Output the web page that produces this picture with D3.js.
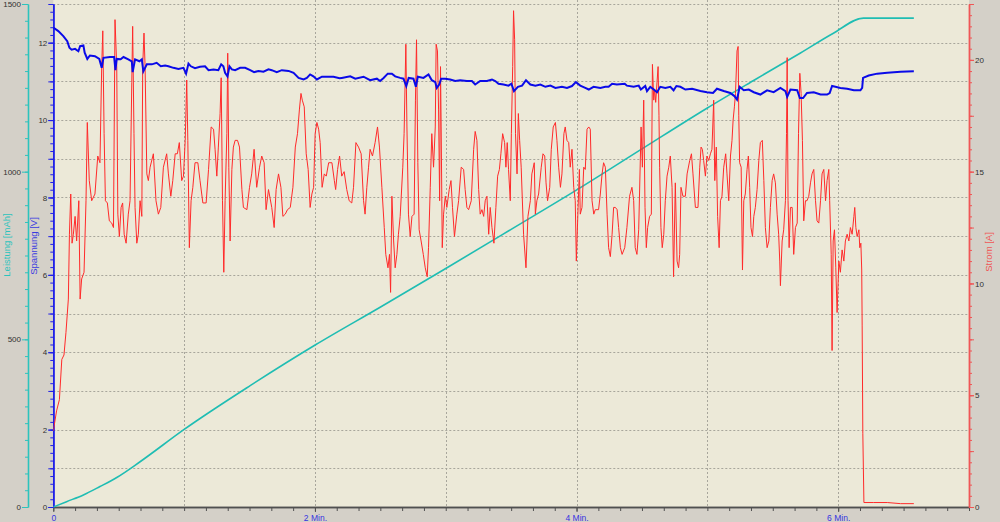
<!DOCTYPE html>
<html><head><meta charset="utf-8">
<script src="https://cdn.jsdelivr.net/npm/d3@7"></script>
<style>html,body{margin:0;padding:0;background:#D4D0C8;overflow:hidden}svg{display:block}</style>
</head><body><svg id="c" width="1000" height="522"></svg>
<script>
// time in seconds, Strom in A
const stromReadings = [[0,3.4],[1.5,4.3],[2.8,4.8],[3.9,6.6],[4.9,6.8],[5.8,7.8],[6.9,9.3],[7.4,12.2],[8.0,14.0],[8.6,11.8],[9.2,12.2],[10.0,13.0],[10.7,11.9],[11.7,13.7],[12.3,9.3],[13.0,10.2],[14.1,10.5],[15.0,13.7],[15.6,17.2],[16.5,14.6],[17.6,13.7],[19.1,14.0],[20.4,15.7],[21.4,15.4],[22.2,19.7],[22.7,21.3],[23.3,16.7],[23.9,13.7],[24.8,13.6],[25.7,12.8],[26.8,12.7],[27.6,12.5],[28.3,21.8],[29.1,19.7],[29.6,13.1],[30.3,12.1],[31.1,13.4],[31.8,13.6],[32.5,12.2],[33.4,11.8],[34.4,13.1],[35.2,13.7],[36.0,19.0],[36.4,21.5],[37.0,16.7],[37.5,13.4],[38.3,11.8],[39.0,12.2],[39.8,13.7],[40.6,13.0],[41.0,19.7],[41.6,21.2],[42.1,19.7],[42.9,14.9],[43.6,14.6],[44.4,15.2],[45.9,15.8],[47.1,13.7],[48.2,13.1],[49.3,13.4],[50.5,15.2],[52.0,15.8],[52.8,14.9],[53.9,13.9],[54.8,14.6],[55.9,15.8],[56.9,15.8],[57.8,16.3],[58.9,14.6],[59.7,14.8],[60.5,16.4],[60.9,17.9],[61.2,19.1],[61.7,16.4],[62.4,11.6],[63.2,13.7],[64.0,14.3],[65.0,15.4],[66.3,15.4],[67.3,14.6],[68.6,13.6],[70.1,13.6],[71.2,15.1],[72.4,17.0],[73.5,16.9],[74.2,16.0],[75.0,14.8],[75.7,16.1],[76.5,17.6],[77.0,19.2],[77.6,13.7],[78.2,10.5],[78.8,13.7],[79.6,16.7],[80.0,20.3],[80.5,15.2],[81.1,11.9],[81.9,15.1],[82.6,16.1],[83.4,16.4],[84.5,16.4],[85.4,16.1],[86.5,14.2],[87.2,13.4],[88.8,13.3],[90.0,14.3],[91.0,14.9],[92.1,16.0],[93.3,14.3],[94.6,15.2],[95.6,15.7],[96.7,15.4],[97.6,13.3],[98.7,14.2],[100.2,13.4],[101.3,12.5],[102.2,14.2],[103.3,14.9],[104.4,14.3],[105.3,13.0],[106.4,13.1],[107.4,13.3],[108.7,13.4],[109.9,14.3],[111.0,16.1],[112.0,16.7],[112.9,17.8],[113.6,18.5],[114.2,18.2],[115.1,17.9],[116.0,15.8],[116.9,15.1],[117.8,13.4],[118.6,14.0],[119.4,14.3],[120.1,16.7],[120.9,17.2],[121.7,16.9],[122.4,16.3],[123.3,14.3],[124.3,14.9],[125.2,14.8],[126.3,15.4],[127.8,15.4],[128.9,14.6],[129.5,14.2],[130.4,15.1],[131.3,15.7],
[132.3,14.8],[133.4,15.0],[134.6,14.2],[135.7,13.7],[136.9,13.6],[137.7,14.3],[138.8,16.3],[140.0,16.1],[141.2,15.8],[142.3,13.7],[143.0,13.1],[143.8,14.3],[144.6,15.2],[145.3,16.0],[146.4,15.7],[147.6,16.3],[148.7,17.0],[149.6,16.1],[150.7,14.3],[151.8,12.5],[152.5,11.3],[153.5,10.7],[154.2,11.3],[154.7,9.6],[155.3,13.9],[156.1,11.9],[156.8,10.7],[157.6,11.3],[158.3,12.2],[159.1,13.0],[160.3,15.2],[160.9,16.7],[161.7,20.7],[162.2,17.0],[162.9,13.1],[163.7,12.1],[164.5,13.0],[165.5,13.1],[166.1,18.2],[166.6,20.9],[167.2,15.4],[167.8,12.4],[168.7,11.9],[169.7,11.3],[170.6,10.7],[171.5,10.3],[172.1,11.6],[172.9,14.3],[173.6,16.7],[174.4,15.2],[175.2,17.0],[175.6,20.7],[176.2,20.4],[176.7,17.8],[177.2,13.7],[177.6,19.7],[177.9,17.0],[178.4,11.6],[179.0,13.1],[179.8,13.9],[180.5,13.4],[181.6,14.2],[182.4,14.6],[183.1,13.4],[184.0,12.1],[185.1,13.1],[185.9,13.7],[187.1,15.2],[188.2,15.1],[188.9,14.2],[189.7,13.4],[190.5,13.3],[191.7,13.7],[192.8,16.0],[193.5,16.8],[194.3,16.4],[195.1,14.2],[195.8,13.1],[196.6,13.3],[197.4,13.0],[198.1,13.7],[198.9,13.9],[199.7,12.2],[200.4,13.4],[201.2,12.5],[202.1,11.8],[203.0,13.4],[203.8,14.8],[204.6,15.1],[205.3,15.8],[206.1,16.7],[207.0,16.3],[207.6,15.2],[208.2,16.3],[208.8,15.1],[209.6,13.7],[210.1,16.7],[210.7,19.7],[211.1,22.2],[211.6,20.9],[212.0,16.7],[212.7,14.9],[213.3,17.6],[213.9,16.4],[214.6,15.2],[215.7,12.2],[216.8,10.7],[217.7,13.0],[218.8,13.7],[219.5,14.9],[220.6,15.4],[221.1,13.1],[221.8,13.7],[222.6,14.0],[223.8,15.2],[224.6,15.8],[225.4,15.7],[226.0,14.5],[226.7,13.7],[227.7,14.3],[228.4,16.0],[229.3,17.0],[230.3,17.2],[231.0,16.4],[231.8,15.2],[232.6,14.3],[233.3,14.9],[234.2,16.7],[234.8,17.0],[235.6,16.4],[236.4,16.3],[237.1,15.2],[237.9,16.0],[238.7,14.3],[239.4,13.7],[239.9,11.0],[240.7,13.4],[241.3,15.1],[241.7,13.1],[242.5,13.4],[243.3,15.2],[244.0,15.1],[244.8,16.9],[245.6,17.0],[246.3,16.9],[247.1,13.7],[247.9,13.1],[248.6,13.3],[250.1,13.3],[250.9,14.0],[251.7,14.9],[252.4,15.4],[253.2,15.2],[254.0,13.1],[254.7,11.6],[255.5,11.2],[256.3,12.2],[257.0,13.4],[257.8,13.4],[258.6,13.3],[259.3,12.5],[260.1,11.6],[260.9,11.3],[262.1,11.6],
[263.1,12.5],[264.3,13.9],[265.4,14.3],[266.2,13.7],[266.9,11.6],[267.7,11.3],[268.5,12.4],[269.6,17.0],[270.2,15.2],[270.8,18.2],[271.4,13.4],[272.0,11.6],[272.6,12.5],[273.5,13.0],[274.3,13.1],[274.8,19.8],[275.4,18.2],[275.8,18.7],[276.3,18.1],[276.9,19.0],[277.4,19.7],[277.8,17.5],[278.1,15.2],[278.7,12.5],[279.3,11.6],[280.0,12.2],[280.7,13.7],[281.5,14.8],[282.3,15.2],[283.0,15.7],[283.8,14.3],[284.5,10.3],[285.3,14.5],[286.1,11.0],[286.8,10.7],[287.3,11.3],[287.9,14.3],[288.8,13.9],[289.9,13.9],[290.7,14.9],[291.9,15.5],[292.7,15.8],[293.4,14.9],[294.5,13.4],[295.7,13.4],[296.5,15.2],[297.1,16.1],[297.7,16.0],[298.3,15.5],[299.1,14.8],[299.8,15.7],[300.6,15.5],[301.4,15.8],[302.1,16.0],[302.9,18.2],[303.4,14.6],[304.1,16.1],[304.7,13.0],[305.4,11.6],[306.0,13.7],[306.7,13.9],[307.5,15.2],[308.4,15.8],[309.0,14.9],[309.8,13.7],[310.6,15.7],[311.3,16.4],[311.8,17.3],[312.4,17.9],[312.9,18.5],[313.6,20.4],[314.1,20.6],[314.4,17.5],[314.8,15.4],[315.5,15.2],[316.1,10.6],[316.7,13.7],[317.4,14.0],[318.2,15.1],[318.8,15.7],[319.4,14.3],[320.0,12.5],[320.7,12.1],[321.3,13.0],[322.0,13.4],[322.8,14.2],[323.6,15.5],[324.3,16.3],[325.2,16.4],[325.9,14.6],[326.6,12.5],[327.4,11.6],[328.2,11.9],[328.9,13.4],[329.7,14.6],[330.4,14.9],[331.2,14.5],[332.0,13.1],[332.7,12.2],[333.2,11.0],[333.5,9.9],[334.3,11.9],[335.0,12.4],[335.8,13.7],[336.3,16.7],[336.6,20.1],[337.0,13.7],[337.5,11.6],[338.1,13.4],[338.9,13.4],[339.6,11.3],[340.4,12.5],[341.2,12.7],[341.8,16.7],[342.4,19.4],[343.0,18.5],[343.6,16.4],[344.2,12.8],[345.0,13.7],[345.7,13.7],[346.5,13.9],[347.3,14.5],[348.0,14.9],[348.8,15.1],[349.6,13.7],[350.3,12.8],[351.1,12.7],[351.9,13.7],[352.6,14.9],[353.4,15.1],[354.2,13.7],[354.9,14.6],[355.7,15.1],[356.1,13.7],[356.8,11.3],[357.2,7.0],[357.7,11.9],[358.3,12.4],[358.9,10.7],[359.5,8.7],[360.3,11.0],[361.0,10.5],[361.8,11.5],[362.6,11.0],[363.3,11.9],[364.1,12.2],[364.9,11.9],[365.6,12.5],[366.4,12.2],[367.2,13.0],[367.6,13.4],[368.1,12.5],[368.7,12.1],[369.5,12.4],[369.9,11.6],[370.4,11.8],[370.8,10.6],[371.0,8.1],[371.3,3.3],[371.8,0.2],[376.3,0.2],[382.5,0.2],[388.6,0.15],[394.7,0.15]];

// time in seconds, Spannung in V
const spannungReadings = [[0,12.39],[2.3,12.30],[4.6,12.17],[6.4,12.04],[7.4,11.87],[8.4,11.82],[10.0,11.84],[11.5,11.78],[12.3,11.91],[13.8,11.93],[14.4,11.74],[15.6,11.58],[16.8,11.67],[19.1,11.65],[21.1,11.58],[22.2,11.35],[23.0,11.61],[26.0,11.63],[27.9,11.63],[28.5,11.29],[29.1,11.58],[30.9,11.57],[32.2,11.63],[34.4,11.57],[36.0,11.52],[36.4,11.24],[37.5,11.57],[39.5,11.52],[40.6,11.57],[41.3,11.26],[42.9,11.44],[45.2,11.44],[47.4,11.48],[49.3,11.39],[51.3,11.41],[52.8,11.39],[55.1,11.35],[57.4,11.32],[59.7,11.35],[60.9,11.20],[62.0,11.46],[63.1,11.39],[65.0,11.34],[67.3,11.38],[69.6,11.39],[71.2,11.29],[73.5,11.31],[75.7,11.29],[77.0,11.44],[78.0,11.39],[78.8,11.22],[79.9,11.13],[80.8,11.39],[81.9,11.31],[83.4,11.29],[85.7,11.35],[88.0,11.35],[90.3,11.29],[92.1,11.24],[94.1,11.27],[96.4,11.25],[98.7,11.31],[100.2,11.29],[102.5,11.24],[104.8,11.29],[107.9,11.27],[110.2,11.22],[112.5,11.09],[114.8,11.05],[116.3,11.09],[117.8,11.18],[119.3,11.13],[120.9,11.05],[123.2,11.12],[125.5,11.12],[128.5,11.12],[131.3,11.08],[132.3,11.09],[136.2,11.13],[138.5,11.07],[142.3,11.12],[145.3,11.03],[148.4,11.07],[149.9,11.01],[151.5,11.09],[153.4,11.20],[155.3,11.20],[156.8,11.13],[159.1,11.09],[160.6,11.07],[161.9,10.88],[163.0,11.09],[165.2,11.07],[166.3,10.86],[167.2,11.12],[169.8,11.09],[172.1,11.18],[173.6,11.03],[175.2,10.98],[175.9,10.83],[177.0,10.92],[177.9,11.07],[179.8,11.07],[182.0,11.05],[184.4,11.01],[186.6,11.03],[189.7,11.01],[192.0,11.01],[193.5,10.92],[195.8,11.01],[198.9,11.01],[201.2,11.05],[202.7,11.01],[204.2,10.94],[206.5,10.92],[208.8,10.89],[210.1,10.94],[211.3,10.75],[213.1,10.86],[215.0,10.89],[216.8,11.03],[218.8,10.92],[221.1,10.89],[223.4,10.92],[225.7,10.86],[228.0,10.89],[230.3,10.83],[233.3,10.86],[235.6,10.83],[237.9,10.88],[239.7,10.98],[241.7,10.89],[244.0,10.83],[245.6,10.79],[247.8,10.86],[250.9,10.83],[253.2,10.86],[254.7,10.86],[256.3,10.94],[258.5,10.92],[262.1,10.94],[263.1,10.89],[266.2,10.86],[268.5,10.89],[269.5,10.79],[271.5,10.88],[272.3,10.75],[273.8,10.86],[275.4,10.79],[276.9,10.72],[278.4,10.86],[280.7,10.83],[283.0,10.86],[284.5,10.77],[285.8,10.88],[287.6,10.86],[289.9,10.79],[293.0,10.81],[296.8,10.75],[299.8,10.72],[302.6,10.70],[304.4,10.81],[307.5,10.75],[310.5,10.70],[312.4,10.62],[313.6,10.53],[314.8,10.86],[316.7,10.77],[319.0,10.79],[321.3,10.72],[324.3,10.66],[327.4,10.77],[330.4,10.72],[333.5,10.83],[335.8,10.75],[336.6,10.60],[338.1,10.79],[341.2,10.77],[342.4,10.57],[343.9,10.57],[345.7,10.70],[348.8,10.72],[351.9,10.66],[354.9,10.66],[356.1,10.70],[357.2,10.88],[358.7,10.86],[361.0,10.83],[364.1,10.81],[367.2,10.77],[370.2,10.77],[371.0,10.83],[371.4,11.09],[374.0,11.15],[377.9,11.20],[382.5,11.22],[388.6,11.25],[394.7,11.26]];

// time in seconds, Leistung
const leistungReadings = [[0,0],[6.1,16],[13.8,36],[21.4,61],[29.1,88],[39.8,135],[59.7,230],[90.3,362],[120.1,483],[150.5,598],[180.2,712],[210.0,828],[239.9,945],[270.0,1068],[300.0,1190],[322.0,1275],[342.7,1354],[357.8,1413],[371.6,1458],[394.7,1458]];

const xLabelTimes = [0, 120, 240, 360];
const xLabelTexts = ["0", "2 Min.", "4 Min.", "6 Min."];
const spannungLabels = [0, 2, 4, 6, 8, 10, 12];
const stromLabels = [0, 5, 10, 15, 20];
const leistungLabels = [0, 500, 1000, 1500];
const titleLeistung = "Leistung [mAh]";
const titleSpannung = "Spannung [V]";
const titleStrom = "Strom [A]";

const L = 53.3, R = 969, T = 4, B = 507;
const svg = d3.select("#c");
const x = d3.scaleLinear().domain([0, 420]).range([L, R]);
const yV = d3.scaleLinear().domain([0, 13]).range([B, T]);
const yW = d3.scaleLinear().domain([0, 1500]).range([B, T]);
const yA = d3.scaleLinear().domain([0, 22.5]).range([B, T]);

const FONT = "'Liberation Sans', Arial, sans-serif";
const C_TEAL = "#2cc3bd", C_BLUE = "#2020e8", C_RED = "#f05656", C_TXT = "#303030";

svg.append("rect").attr("x", 0).attr("y", 0).attr("width", 1000).attr("height", 522).attr("fill", "#D4D0C8");
svg.append("rect").attr("x", L).attr("y", 0).attr("width", R - L).attr("height", B).attr("fill", "#ECE9D8");

// grid
const grid = svg.append("g").attr("stroke", "#a8a69c").attr("stroke-width", 1).attr("stroke-dasharray", "2,2");
d3.range(1, 14).forEach(v => {
  const yy = Math.round(yV(v)) + 0.5;
  grid.append("line").attr("x1", L).attr("x2", R).attr("y1", yy).attr("y2", yy);
});
d3.range(60, 420, 60).forEach(t => {
  const xx = Math.round(x(t)) + 0.5;
  grid.append("line").attr("x1", xx).attr("x2", xx).attr("y1", 0).attr("y2", B);
});

function styleAxis(g, color) {
  g.selectAll("path.domain").attr("stroke", color).attr("stroke-width", 1.3);
  g.selectAll(".tick line").attr("stroke", color);
  g.selectAll("text").attr("fill", C_TXT).style("font-family", FONT).style("font-size", "8px");
}

// bottom axis
const gx1 = svg.append("g").attr("transform", `translate(0,${B})`)
  .call(d3.axisBottom(x).tickValues(d3.range(0, 421, 10)).tickSize(4).tickSizeOuter(0).tickFormat(""));
styleAxis(gx1, "#505050");
const gx2 = svg.append("g").attr("transform", `translate(0,${B})`)
  .call(d3.axisBottom(x).tickValues(xLabelTimes).tickSize(5).tickPadding(3).tickSizeOuter(0)
    .tickFormat((d, i) => xLabelTexts[i]));
styleAxis(gx2, "#505050");
gx2.selectAll("text").attr("fill", "#3434e0").style("font-size", "8.5px");

// Leistung axis
const gw1 = svg.append("g").attr("transform", "translate(28,0)")
  .call(d3.axisLeft(yW).tickValues(d3.range(0, 1501, 50)).tickSize(3).tickSizeOuter(0).tickFormat(""));
styleAxis(gw1, C_TEAL);
const gw2 = svg.append("g").attr("transform", "translate(28,0)")
  .call(d3.axisLeft(yW).tickValues(leistungLabels).tickSize(6).tickPadding(1).tickSizeOuter(0).tickFormat(d3.format("d")));
styleAxis(gw2, C_TEAL);

// Spannung axis
const gv1 = svg.append("g").attr("transform", `translate(${L},0)`)
  .call(d3.axisLeft(yV).tickValues(d3.range(0, 65).map(i => i * 0.2)).tickSize(3).tickSizeOuter(0).tickFormat(""));
styleAxis(gv1, C_BLUE);
const gv2 = svg.append("g").attr("transform", `translate(${L},0)`)
  .call(d3.axisLeft(yV).tickValues(d3.range(0, 14)).tickSize(5).tickSizeOuter(0).tickFormat(""));
styleAxis(gv2, C_BLUE);
const gv3 = svg.append("g").attr("transform", `translate(${L},0)`)
  .call(d3.axisLeft(yV).tickValues(spannungLabels).tickSize(5).tickPadding(1).tickSizeOuter(0).tickFormat(d3.format("d")));
styleAxis(gv3, C_BLUE);

// Strom axis
const ga1 = svg.append("g").attr("transform", `translate(${R},0)`)
  .call(d3.axisRight(yA).tickValues(d3.range(0, 46).map(i => i * 0.5)).tickSize(3).tickSizeOuter(0).tickFormat(""));
styleAxis(ga1, C_RED);
const ga2 = svg.append("g").attr("transform", `translate(${R},0)`)
  .call(d3.axisRight(yA).tickValues(d3.range(0, 23, 2.5)).tickSize(5).tickSizeOuter(0).tickFormat(""));
styleAxis(ga2, C_RED);
const ga3 = svg.append("g").attr("transform", `translate(${R},0)`)
  .call(d3.axisRight(yA).tickValues(stromLabels).tickSize(5).tickPadding(1).tickSizeOuter(0).tickFormat(d3.format("d")));
styleAxis(ga3, C_RED);

// titles
function vTitle(txt, cx, cy, color, size) {
  svg.append("text").attr("transform", `translate(${cx},${cy}) rotate(-90)`)
    .attr("text-anchor", "middle").attr("fill", color)
    .style("font-family", FONT).style("font-size", size + "px").text(txt);
}
vTitle(titleLeistung, 10, 245, C_TEAL, 9.5);
vTitle(titleSpannung, 37, 246, "#3a3ae0", 9.5);
vTitle(titleStrom, 992, 252, C_RED, 9.5);

// lines
svg.append("clipPath").attr("id", "pc").append("rect")
  .attr("x", L).attr("y", 0).attr("width", R - L).attr("height", B + 1);
const lines = svg.append("g").attr("clip-path", "url(#pc)");

lines.append("path").datum(leistungReadings)
  .attr("d", d3.line().curve(d3.curveMonotoneX).x(d => x(d[0])).y(d => yW(d[1])))
  .attr("fill", "none").attr("stroke", "#1fbdb3").attr("stroke-width", 1.6);
lines.append("path").datum(stromReadings)
  .attr("d", d3.line().x(d => x(d[0])).y(d => yA(d[1])))
  .attr("fill", "none").attr("stroke", "#ff2a2a").attr("stroke-width", 1).attr("stroke-linejoin", "round");
lines.append("path").datum(spannungReadings)
  .attr("d", d3.line().x(d => x(d[0])).y(d => yV(d[1])))
  .attr("fill", "none").attr("stroke", "#0a0ae8").attr("stroke-width", 2);
</script>
</body></html>
